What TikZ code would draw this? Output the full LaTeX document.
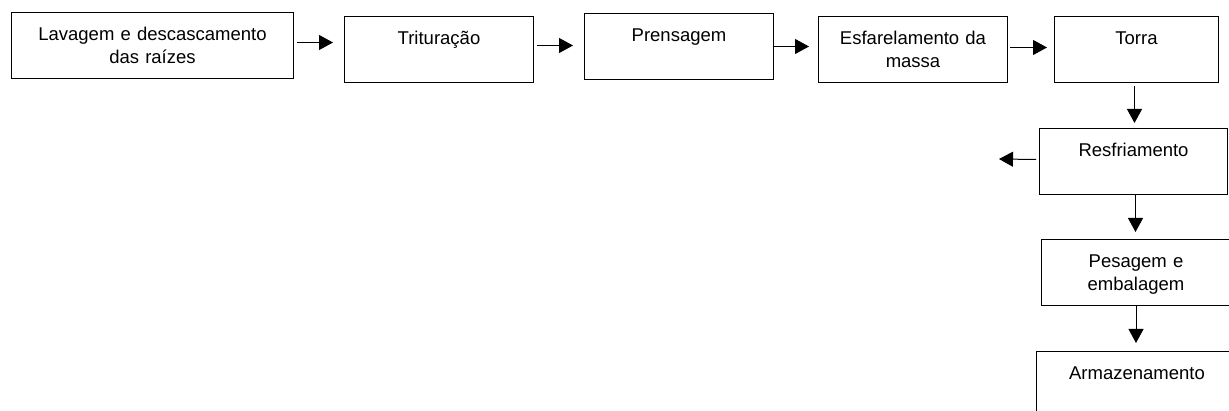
\documentclass[tikz,border=0pt]{standalone}
\usepackage{fontspec}
\setmainfont{Liberation Sans}
\usetikzlibrary{arrows.meta}

\begin{document}
\begin{tikzpicture}[x=1pt, y=-1pt,
stepnode/.style={draw=black, line width=1pt, inner sep=0pt, anchor=north west, align=center, text height=28pt, text depth=38pt, font=\fontsize{18.5}{23}\selectfont},
flowline/.style={line width=1pt, -{Triangle[length=14pt,width=15pt]}},
]
\path[use as bounding box, clip] (0,0) rectangle (1229,411);
%Nodes
\node[stepnode, text width=282pt] (lav) at (11,12)   {Lavagem e descascamento\\das raízes};
\node[stepnode, text width=189pt] (tri) at (344,16)  {Trituração};
\node[stepnode, text width=189pt] (pre) at (584,13)  {Prensagem};
\node[stepnode, text width=189pt] (esf) at (818,16)  {Esfarelamento da\\massa};
\node[stepnode, text width=164pt] (tor) at (1054,16) {Torra};
\node[stepnode, text width=188pt] (res) at (1039,128) {Resfriamento};
\node[stepnode, text width=189pt] (pes) at (1041,239) {Pesagem e\\embalagem};
\node[stepnode, text width=201pt] (arm) at (1036,351) {Armazenamento};
\coordinate (sai) at (999,159);
%Lines
\draw[flowline] ([shift={(3,-3)}]lav.east) -- ([shift={(-11,-3)}]lav.east -| tri.west);
\draw[flowline] ([shift={(3,-4)}]tri.east) -- ([shift={(-11,-4)}]tri.east -| pre.west);
\draw[flowline] ([shift={(-1,0)}]pre.east) -- ([shift={(-9,0)}]pre.east -| esf.west);
\draw[flowline] ([shift={(2,-2)}]esf.east) -- ([shift={(-7,-2)}]esf.east -| tor.west);
\draw[flowline] ([shift={(-2,3)}]tor.south) -- ([shift={(-2,-5)}]tor.south |- res.north);
\draw[flowline] ([shift={(-3,-2)}]res.west) -- (sai);
\draw[flowline] ([shift={(2,0)}]res.south) -- ([shift={(2,-7)}]res.south |- pes.north);
\draw[flowline] (pes.south) -- ([shift={(0,-8)}]pes.south |- arm.north);
\end{tikzpicture}
\end{document}
